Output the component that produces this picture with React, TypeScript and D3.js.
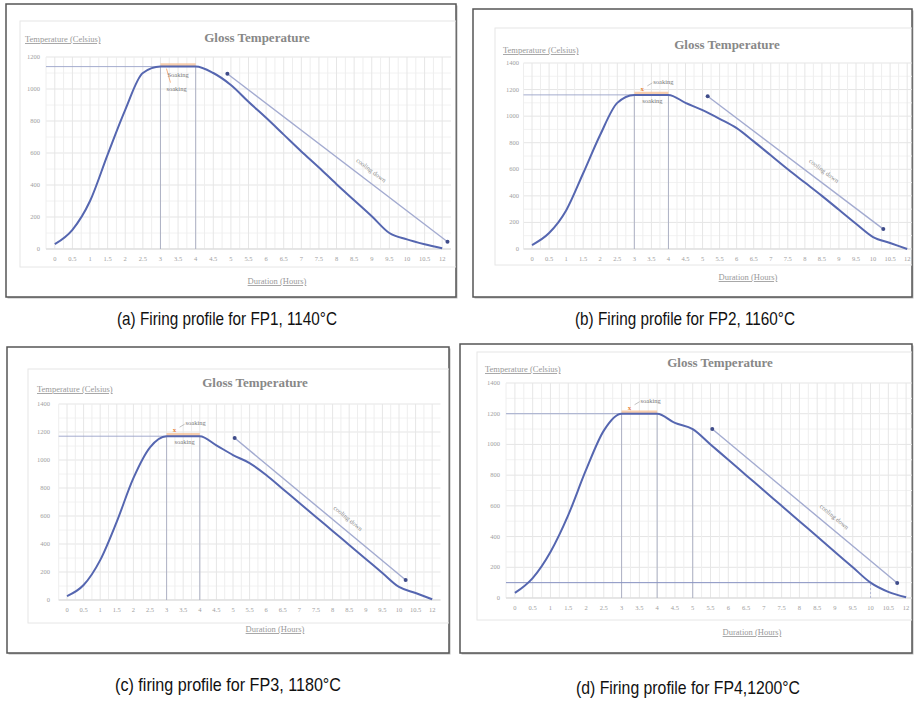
import * as d3 from "d3";

// duration categories (Excel category axis)
const hours = ["0", "0.5", "1", "1.5", "2", "2.5", "3", "3.5", "4", "4.5", "5", "5.5", "6", "6.5", "7", "7.5", "8", "8.5", "9", "9.5", "10", "10.5", "12"];

// gloss firing temperature per profile (°C)
const fp1 = [30, 120, 300, 590, 870, 1100, 1140, 1140, 1140, 1100, 1025, 920, 820, 715, 610, 510, 405, 305, 205, 100, 60, 30, 5];
const fp2 = [30, 120, 290, 570, 860, 1100, 1160, 1160, 1160, 1100, 1045, 980, 910, 810, 705, 600, 500, 400, 295, 190, 90, 45, 0];
const fp3 = [28, 107, 285, 560, 870, 1090, 1170, 1170, 1170, 1105, 1035, 978, 893, 793, 693, 593, 493, 393, 293, 193, 93, 50, 5];
const fp4 = [33, 130, 300, 540, 834, 1090, 1200, 1200, 1200, 1140, 1100, 1000, 900, 800, 700, 600, 500, 400, 300, 200, 100, 40, 5];

const peaks = [1140, 1160, 1170, 1200];
const yMaxes = [1200, 1400, 1400, 1400];
const captions = [
  "(a) Firing profile for FP1, 1140°C",
  "(b) Firing profile for FP2, 1160°C",
  "(c) firing profile for FP3, 1180°C",
  "(d) Firing profile for FP4,1200°C",
];

// cooling-down arrow ends, [category index, temperature]
const coolFrom = [[9.8, 1095], [10.3, 1150], [10.1, 1157], [11.1, 1100]];
const coolTo = [[22.3, 45], [20.6, 150], [20.4, 143], [21.5, 98]];
// vertical guide lines (category index)
const guides = [[6, 8], [6, 8], [6, 8], [6, 8, 10]];

const series = [fp1, fp2, fp3, fp4];

// panel layout (pixels)
const layouts = [
  { box: [6, 4, 450, 293], inner: [20, 21, 436, 246], plot: [46, 451, 57, 249], title: [257, 42], ytitle: [25, 42], xtitle: [277, 284], tickX: 40, labelY: 261 },
  { box: [473, 9, 439, 288], inner: [495, 28, 417, 237], plot: [523.5, 915.7, 63, 249], title: [727, 49], ytitle: [503, 53], xtitle: [748, 280], tickX: 519, labelY: 261 },
  { box: [7, 347, 442, 306], inner: [28, 369, 421, 254], plot: [58.7, 440.5, 404, 600], title: [255, 387], ytitle: [37, 392], xtitle: [275, 632], tickX: 50, labelY: 612 },
  { box: [460, 344, 452, 309], inner: [477, 352, 435, 268], plot: [506, 915, 383, 598], title: [720, 367], ytitle: [485, 372], xtitle: [752, 635], tickX: 500, labelY: 610 },
];
const captionPos = [[227, 325], [685, 325], [228, 691], [688, 694]];
const captionWidth = [220, 220, 226, 224];

const lineColor = "#5566b0";
const gray = "#a0a0a0";

function Panel({ idx }: { idx: number }) {
  const L = layouts[idx];
  const values = series[idx];
  const peak = peaks[idx];
  const [left, right, top, bottom] = L.plot;

  const x = d3.scaleBand().domain(hours).range([left, right]);
  const step = x.step();
  const xAt = (i: number) => left + step / 2 + i * step;
  const y = d3.scaleLinear().domain([0, yMaxes[idx]]).range([bottom, top]);

  const line = d3
    .line<number>()
    .x((_, i) => (x(hours[i]) as number) + step / 2)
    .y((d) => y(d))
    .curve(d3.curveMonotoneX);

  const major = d3.range(0, yMaxes[idx] + 1, 200);
  const minor = d3.range(100, yMaxes[idx], 200);
  const clipId = `clip${idx}`;
  const [bx, by, bw, bh] = L.box;

  const p0 = coolFrom[idx];
  const p1 = coolTo[idx];
  const ax0 = xAt(p0[0]), ay0 = y(p0[1]);
  const ax1 = xAt(p1[0]), ay1 = y(p1[1]);
  const ang = (Math.atan2(ay1 - ay0, ax1 - ax0) * 180) / Math.PI;
  const tx = ax0 + (ax1 - ax0) * 0.62;
  const ty = ay0 + (ay1 - ay0) * 0.62;

  const plateauL = xAt(6);
  const plateauR = xAt(8);

  return (
    <g>
      <defs>
        <clipPath id={clipId}>
          <rect x={bx} y={by} width={bw} height={bh} />
        </clipPath>
      </defs>
      <rect x={bx + 1.5} y={by + 1.5} width={bw} height={bh} fill="#bbb" />
      <rect x={bx} y={by} width={bw} height={bh} fill="#fff" stroke="#555" strokeWidth={1.5} />
      <g clipPath={`url(#${clipId})`}>
        <rect x={L.inner[0]} y={L.inner[1]} width={L.inner[2]} height={L.inner[3]} fill="none" stroke="#e6e6e6" />
        {/* grid */}
        {minor.map((v) => (
          <line key={"m" + v} x1={left} x2={right} y1={y(v)} y2={y(v)} stroke="#f2f2f2" />
        ))}
        {major.map((v) => (
          <line key={"M" + v} x1={left} x2={right} y1={y(v)} y2={y(v)} stroke="#e5e5e5" />
        ))}
        {hours.map((h) => (
          <g key={"v" + h}>
            <line x1={x(h)} x2={x(h)} y1={top} y2={bottom} stroke="#eeeeee" />
            <line x1={(x(h) as number) + step / 2} x2={(x(h) as number) + step / 2} y1={top} y2={bottom} stroke="#e6e6e6" />
          </g>
        ))}
        <line x1={left} x2={right} y1={bottom} y2={bottom} stroke="#d9d9d9" />

        {/* tick labels */}
        {major.map((v) => (
          <text key={"t" + v} x={L.tickX} y={y(v) + 2} fontSize={6.5} fill={gray} textAnchor="end" fontFamily="Liberation Serif, serif">
            {v}
          </text>
        ))}
        {hours.map((h) => (
          <text key={"l" + h} x={(x(h) as number) + step / 2} y={L.labelY} fontSize={6.5} fill={gray} textAnchor="middle" fontFamily="Liberation Serif, serif">
            {h}
          </text>
        ))}

        {/* guides */}
        <line x1={left} x2={plateauL} y1={y(peak)} y2={y(peak)} stroke="#9aa3c8" strokeWidth={0.9} />
        {guides[idx].map((g) => (
          <line key={"g" + g} x1={xAt(g)} x2={xAt(g)} y1={y(0)} y2={y(values[g])} stroke="#a0a5bd" strokeWidth={0.8} />
        ))}
        {idx === 3 && (
          <g>
            <line x1={left} x2={xAt(20)} y1={y(values[20])} y2={y(values[20])} stroke="#8792c2" strokeWidth={1} />
            <line x1={xAt(20)} x2={xAt(20)} y1={y(0)} y2={y(values[20])} stroke="#a8aed0" strokeWidth={0.8} strokeDasharray="2,2" />
          </g>
        )}

        {/* soaking highlight */}
        <line x1={plateauL} x2={plateauR} y1={y(peak) - 1.5} y2={y(peak) - 1.5} stroke="#f6c29a" strokeWidth={3.5} opacity={0.8} />

        {/* profile curve */}
        <path d={line(values) || ""} fill="none" stroke={lineColor} strokeWidth={2} strokeLinejoin="round" />

        {/* soaking labels */}
        {idx === 0 ? (
          <g fontFamily="Liberation Serif, serif" fontSize={6.5} fill="#777">
            <line x1={plateauL + 6} x2={plateauL + 10} y1={y(peak) + 2} y2={y(peak) + 16} stroke="#f4b183" strokeWidth={1} />
            <text x={plateauL + 7} y={y(peak) + 10}>Soaking</text>
            <text x={plateauL + 6} y={y(peak) + 24}>soaking</text>
          </g>
        ) : (
          <g fontFamily="Liberation Serif, serif" fontSize={6.5} fill="#777">
            <text x={plateauL + 8} y={y(peak) - 4} fontSize={7} fill="#e8843a" fontWeight="bold" textAnchor="middle">x</text>
            <line x1={plateauL + 13} x2={plateauL + 18} y1={y(peak) - 9} y2={y(peak) - 12} stroke="#999" strokeWidth={0.6} />
            <text x={plateauL + 19} y={y(peak) - 11}>soaking</text>
            {idx < 3 && <text x={plateauL + 8} y={y(peak) + 8}>soaking</text>}
          </g>
        )}

        {/* cooling down arrow */}
        <line x1={ax0} y1={ay0} x2={ax1} y2={ay1} stroke="#a3abd0" strokeWidth={1.4} />
        <circle cx={ax0} cy={ay0} r={2} fill="#3f4c8a" />
        <circle cx={ax1} cy={ay1} r={2} fill="#3f4c8a" />
        <text
          transform={`translate(${tx + 6},${ty - 6}) rotate(${ang})`}
          fontSize={6.5}
          fill="#888"
          textAnchor="middle"
          fontFamily="Liberation Serif, serif"
        >
          cooling down
        </text>

        {/* titles */}
        <text x={L.title[0]} y={L.title[1]} fontSize={13} fontWeight="bold" fill="#888" textAnchor="middle" fontFamily="Liberation Serif, serif">
          Gloss Temperature
        </text>
        <text x={L.ytitle[0]} y={L.ytitle[1]} fontSize={8.5} fill="#999" textDecoration="underline" fontFamily="Liberation Serif, serif">
          Temperature (Celsius)
        </text>
        <text x={L.xtitle[0]} y={L.xtitle[1]} fontSize={8.5} fill="#999" textAnchor="middle" textDecoration="underline" fontFamily="Liberation Serif, serif">
          Duration (Hours)
        </text>
      </g>
    </g>
  );
}

export default function App() {
  return (
    <svg width={915} height={701} style={{ position: "absolute", left: 0, top: 0, background: "#fff" }}>
      {layouts.map((_, i) => (
        <Panel key={i} idx={i} />
      ))}
      {captions.map((c, i) => (
        <text
          key={c}
          x={captionPos[i][0]}
          y={captionPos[i][1]}
          fontSize={19}
          fill="#111"
          textAnchor="middle"
          textLength={captionWidth[i]}
          lengthAdjust="spacingAndGlyphs"
          fontFamily="'Liberation Sans', Arial, sans-serif"
        >
          {c}
        </text>
      ))}
    </svg>
  );
}
